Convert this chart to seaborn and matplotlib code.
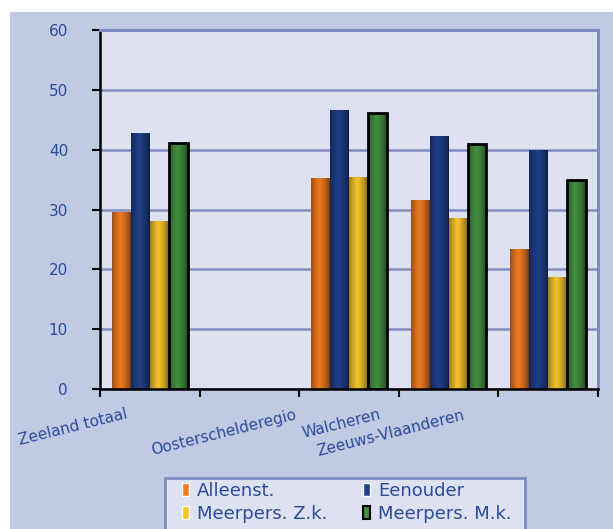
import numpy as np
import pandas as pd
import matplotlib
matplotlib.use("Agg")
import matplotlib.pyplot as plt
import matplotlib.colors as mcolors
from matplotlib.patches import Patch, Rectangle
from matplotlib.transforms import ScaledTranslation
import seaborn as sns

# data (percentages)
regios = ["Zeeland totaal", " ", "Oosterschelderegio", "Walcheren", "Zeeuws-Vlaanderen"]
huishoudens = ["Alleenst.", "Eenouder", "Meerpers. Z.k.", "Meerpers. M.k."]
alleenst = [29.6, 35.3, 31.6, 23.4]
eenouder = [42.8, 46.7, 42.3, 40.0]
meerpers_zk = [28.1, 35.5, 28.6, 18.7]
meerpers_mk = [41.1, 46.2, 41.0, 35.0]
regios_met_data = ["Zeeland totaal", "Oosterschelderegio", "Walcheren", "Zeeuws-Vlaanderen"]

rows = []
for naam, waarden in zip(huishoudens, [alleenst, eenouder, meerpers_zk, meerpers_mk]):
    for r, v in zip(regios_met_data, waarden):
        rows.append({"regio": r, "type": naam, "pct": v})
df = pd.DataFrame(rows)

kleuren = ["#ee7a22", "#1f3f88", "#f4c42c", "#438e40"]
tekst = "#2b4b9b"
rand = "#7f8cc1"

sns.set_style("white")
plt.rcParams['font.family'] = ['DejaVu Sans']

fig = plt.figure(figsize=(6.13, 5.29), dpi=100)
fig.patch.set_facecolor("white")
fig.patches.append(Rectangle((10 / 613, 0), 1, 1 - 12 / 529, transform=fig.transFigure,
                             facecolor="#c0cae2", edgecolor="none", zorder=-10))

ax = fig.add_axes([100 / 613, 1 - 389 / 529, 498 / 613, 359 / 529])
ax.set_facecolor("#dde1f0")

sns.barplot(data=df, x="regio", y="pct", hue="type", order=regios, hue_order=huishoudens,
            palette=kleuren, width=0.76, saturation=1, legend=False, ax=ax)

# gradient shading on the bars
for p in list(ax.patches):
    c = np.array(mcolors.to_rgb(p.get_facecolor()))
    t = np.linspace(0, 1, 40)
    f = 0.45 + 0.55 * np.clip(1 - np.abs(t - 0.45) / 0.55, 0, 1) ** 0.6
    grad = np.clip(c[None, :] * f[:, None], 0, 1)[None, :, :]
    x0, y0 = p.get_x(), p.get_y()
    w, h = p.get_width(), p.get_height()
    if np.isnan(h) or h == 0:
        continue
    im = ax.imshow(grad, extent=(x0, x0 + w, y0, y0 + h), aspect="auto", zorder=2.5,
                   interpolation="bilinear")
    im.set_clip_path(p)
    p.set_facecolor("none")
    p.set_zorder(3)
    if np.allclose(c, mcolors.to_rgb(kleuren[3])):
        p.set_edgecolor("black")
        p.set_linewidth(2)
    else:
        p.set_edgecolor("none")

ax.set_xlim(-0.5, 4.5)
ax.set_ylim(0, 60)
ax.set_yticks(range(0, 61, 10))
ax.yaxis.grid(True, color=rand, linewidth=1.8)
ax.set_axisbelow(True)
ax.set_xlabel("")
ax.set_ylabel("")

ax.tick_params(axis="y", colors="black", labelcolor=tekst, labelsize=11, length=6, width=1.5,
               direction="out", pad=17, left=True)
ax.set_xticks(np.arange(-0.5, 5, 1), minor=True)
ax.tick_params(axis="x", which="minor", length=6, width=1.5, color="black", direction="out", bottom=True)
ax.tick_params(axis="x", which="major", length=0, pad=0, labelcolor=tekst, labelsize=11)

ax.set_xticks(range(len(regios)))
ax.set_xticklabels(regios, rotation=14, ha="right", va="top", rotation_mode="anchor")
verschuiving = [(-24, 17), (0, 0), (-55, 18), (-70, 18), (-86, 19)]
for lab, (dx, dy) in zip(ax.get_xticklabels(), verschuiving):
    lab.set_transform(lab.get_transform() + ScaledTranslation(dx / 100, -dy / 100, fig.dpi_scale_trans))

for s in ["left", "bottom"]:
    ax.spines[s].set_color("black")
    ax.spines[s].set_linewidth(1.8)
for s in ["top", "right"]:
    ax.spines[s].set_color(rand)
    ax.spines[s].set_linewidth(2.2)

# legend frame (runs off the bottom edge like in the original)
fig.patches.append(Rectangle((165 / 613, -0.02), 360 / 613, 0.02 + 1 - 478 / 529,
                             transform=fig.transFigure, facecolor="#dde1f0",
                             edgecolor=rand, linewidth=2, zorder=1))

# matplotlib fills legend column-wise, so order for rows A/E and Z.k./M.k.
volgorde = [0, 2, 1, 3]
handles = [Patch(facecolor=kleuren[0]), Patch(facecolor=kleuren[1]),
           Patch(facecolor=kleuren[2]), Patch(facecolor=kleuren[3], edgecolor="black", linewidth=1.5)]
leg = fig.legend([handles[i] for i in volgorde], [huishoudens[i] for i in volgorde], ncol=2,
                 loc="upper left", bbox_to_anchor=(182 / 613, 1 - 482 / 529),
                 bbox_transform=fig.transFigure, fontsize=13, frameon=False,
                 handlelength=0.4, handleheight=0.7, handletextpad=0.45,
                 columnspacing=1.95, labelspacing=0.25, borderpad=0, borderaxespad=0)
leg.set_zorder(2)
for t in leg.get_texts():
    t.set_color(tekst)

plt.savefig("out.png", dpi=100)
